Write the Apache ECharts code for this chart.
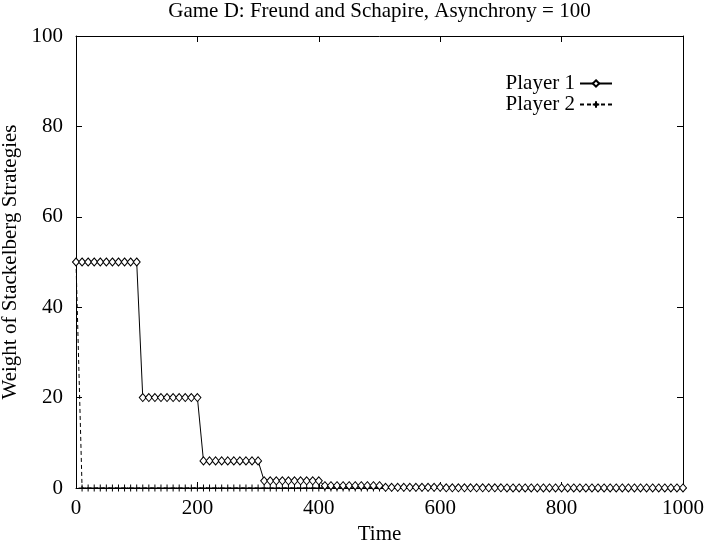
<!DOCTYPE html>
<html>
<head>
<meta charset="utf-8">
<script src="https://cdn.jsdelivr.net/npm/echarts@6/dist/echarts.min.js"></script>
<style>
  html, body { margin: 0; padding: 0; background: #fff; }
  #chart { width: 707px; height: 545px; }
</style>
</head>
<body>
<div id="chart"></div>
<script>
// Sampling times (every 10 steps)
const times = [
  0, 10, 20, 30, 40, 50, 60, 70, 80, 90,
  100, 110, 120, 130, 140, 150, 160, 170, 180, 190,
  200, 210, 220, 230, 240, 250, 260, 270, 280, 290,
  300, 310, 320, 330, 340, 350, 360, 370, 380, 390,
  400, 410, 420, 430, 440, 450, 460, 470, 480, 490,
  500, 510, 520, 530, 540, 550, 560, 570, 580, 590,
  600, 610, 620, 630, 640, 650, 660, 670, 680, 690,
  700, 710, 720, 730, 740, 750, 760, 770, 780, 790,
  800, 810, 820, 830, 840, 850, 860, 870, 880, 890,
  900, 910, 920, 930, 940, 950, 960, 970, 980, 990,
  1000
];

// Weight on Stackelberg strategies, player 1 (updates every 100 steps)
const player1 = [
  50, 50, 50, 50, 50, 50, 50, 50, 50, 50,
  50, 20, 20, 20, 20, 20, 20, 20, 20, 20,
  20, 6, 6, 6, 6, 6, 6, 6, 6, 6,
  6, 1.6, 1.6, 1.6, 1.6, 1.6, 1.6, 1.6, 1.6, 1.6,
  1.6, 0.5, 0.5, 0.5, 0.5, 0.5, 0.5, 0.5, 0.5, 0.5,
  0.5, 0.15, 0.15, 0.15, 0.15, 0.15, 0.15, 0.15, 0.15, 0.15,
  0.15, 0.05, 0.05, 0.05, 0.05, 0.05, 0.05, 0.05, 0.05, 0.05,
  0.05, 0.015, 0.015, 0.015, 0.015, 0.015, 0.015, 0.015, 0.015, 0.015,
  0.015, 0.005, 0.005, 0.005, 0.005, 0.005, 0.005, 0.005, 0.005, 0.005,
  0.005, 0.0015, 0.0015, 0.0015, 0.0015, 0.0015, 0.0015, 0.0015, 0.0015, 0.0015,
  0.0015
];

// Weight on Stackelberg strategies, player 2
const player2 = [
  50, 0, 0, 0, 0, 0, 0, 0, 0, 0,
  0, 0, 0, 0, 0, 0, 0, 0, 0, 0,
  0, 0, 0, 0, 0, 0, 0, 0, 0, 0,
  0, 0, 0, 0, 0, 0, 0, 0, 0, 0,
  0, 0, 0, 0, 0, 0, 0, 0, 0, 0,
  0, 0, 0, 0, 0, 0, 0, 0, 0, 0,
  0, 0, 0, 0, 0, 0, 0, 0, 0, 0,
  0, 0, 0, 0, 0, 0, 0, 0, 0, 0,
  0, 0, 0, 0, 0, 0, 0, 0, 0, 0,
  0, 0, 0, 0, 0, 0, 0, 0, 0, 0,
  0
];

const seriesNames = ['Player 1', 'Player 2'];
const xTicks = { min: 0, max: 1000, interval: 200 };
const yTicks = { min: 0, max: 100, interval: 20 };

const FONT = '"Liberation Serif", "Times New Roman", serif';
const FONT_SIZE = 21;
const plusPath = 'path://M0,5L10,5M5,0L5,10';

function pairs(xs, ys) {
  return xs.map((x, i) => [x, ys[i]]);
}

// Shared frame style: full border with inward ticks on all four sides
function frameAxis(extra) {
  return Object.assign({
    type: 'value',
    axisLine: { show: true, onZero: false, lineStyle: { color: '#000', width: 1 } },
    axisTick: { show: true, inside: true, length: 6, lineStyle: { color: '#000', width: 1 } },
    splitLine: { show: false }
  }, extra);
}

const chart = echarts.init(document.getElementById('chart'), null, { renderer: 'canvas' });

chart.setOption({
  animation: false,
  backgroundColor: '#fff',
  title: {
    text: 'Game D: Freund and Schapire, Asynchrony = 100',
    left: 379.5,
    textAlign: 'center',
    top: 1,
    padding: 0,
    textStyle: { fontFamily: FONT, fontSize: FONT_SIZE, fontWeight: 'normal', color: '#000' }
  },
  legend: {
    orient: 'vertical',
    right: 94,
    top: 73,
    align: 'right',
    padding: 0,
    itemWidth: 32,
    itemHeight: 8,
    itemGap: 0,
    textStyle: { fontFamily: FONT, fontSize: FONT_SIZE, color: '#000' },
    data: seriesNames
  },
  grid: { left: 76, right: 24, top: 36, bottom: 57, containLabel: false, outerBoundsMode: 'none' },
  xAxis: [
    frameAxis({
      position: 'bottom',
      min: xTicks.min, max: xTicks.max, interval: xTicks.interval,
      name: 'Time',
      nameLocation: 'middle',
      nameGap: 31,
      nameTextStyle: { fontFamily: FONT, fontSize: FONT_SIZE, color: '#000' },
      axisLabel: { fontFamily: FONT, fontSize: FONT_SIZE, color: '#000', margin: 10,
                   formatter: v => String(v) }
    }),
    frameAxis({
      position: 'top',
      min: xTicks.min, max: xTicks.max, interval: xTicks.interval,
      axisLabel: { show: false }
    })
  ],
  yAxis: [
    frameAxis({
      position: 'left',
      min: yTicks.min, max: yTicks.max, interval: yTicks.interval,
      name: 'Weight of Stackelberg Strategies',
      nameLocation: 'middle',
      nameGap: 46,
      nameRotate: 90,
      nameTextStyle: { fontFamily: FONT, fontSize: FONT_SIZE, color: '#000' },
      axisLabel: { fontFamily: FONT, fontSize: FONT_SIZE, color: '#000', margin: 13,
                   formatter: v => String(v) }
    }),
    frameAxis({
      position: 'right',
      min: yTicks.min, max: yTicks.max, interval: yTicks.interval,
      axisLabel: { show: false }
    })
  ],
  series: [
    {
      name: seriesNames[0],
      type: 'line',
      data: pairs(times, player1),
      symbol: 'diamond',
      symbolSize: [7, 8],
      showAllSymbol: true,
      lineStyle: { color: '#000', width: 1 },
      itemStyle: { color: '#fff', borderColor: '#000', borderWidth: 1 },
      z: 3
    },
    {
      name: seriesNames[1],
      type: 'line',
      data: pairs(times, player2),
      symbol: plusPath,
      symbolSize: 7,
      showAllSymbol: true,
      lineStyle: { color: '#000', width: 1, type: [4, 3] },
      itemStyle: { color: '#000', borderColor: '#000', borderWidth: 1 },
      z: 2
    }
  ]
});
</script>
</body>
</html>
